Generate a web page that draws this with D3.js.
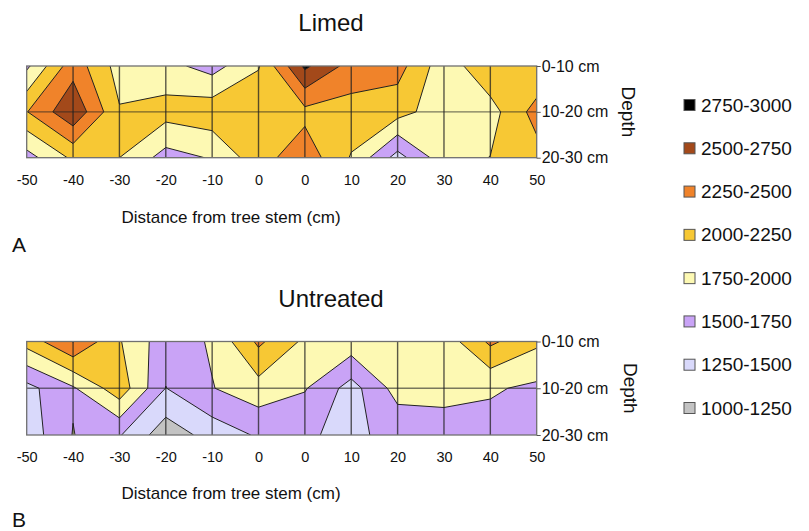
<!DOCTYPE html>
<html>
<head>
<meta charset="utf-8">
<script src="https://cdn.jsdelivr.net/npm/d3@7"></script>
<style>
  body { margin: 0; background: #fff; }
  svg { display: block; font-family: "Liberation Sans", Arial, Helvetica, sans-serif; }
</style>
</head>
<body>
<svg id="chart" width="809" height="531"></svg>
<script>
// column labels along the stem transect (two "0" columns, as in the figure)
const xLabels = ["-50","-40","-30","-20","-10","0","0","10","20","30","40","50"];
const depthLabels = ["0-10 cm","10-20 cm","20-30 cm"];

const thresholds = [1000, 1250, 1500, 1750, 2000, 2250, 2500, 2750];
const bandLabels = ["1000-1250","1250-1500","1500-1750","1750-2000","2000-2250","2250-2500","2500-2750","2750-3000"];
const bandColors = ["#c3c3c3","#d9d9fb","#c9a3f6","#fdf9b3","#f7c834","#f0832a","#a3491a","#000000"];

// Limed plot, one array per depth row
const limedTop    = [1700, 2400, 1900, 1830, 1650, 1980, 2800, 2400, 2350, 1850, 2200, 2020];
const limedMid    = [2240, 2700, 2020, 2100, 2160, 2200, 2180, 2150, 2100, 1850, 1900, 2350];
const limedBottom = [1650, 2050, 2000, 1650, 1770, 2150, 2400, 1980, 1400, 1900, 2005, 2150];

// Untreated plot
const untreatedTop    = [2100, 2510, 2020, 1600, 1780, 2300, 1950, 1900, 1800, 1850, 2300, 2050];
const untreatedMid    = [1420, 1720, 2150, 1495, 1740, 1900, 1770, 1400, 1850, 1820, 1780, 1700];
const untreatedBottom = [1350, 1760, 1520, 1100, 1350, 1530, 1520, 1460, 1560, 1650, 1650, 1680];

const svg = d3.select("#chart");
svg.append("rect").attr("width", 809).attr("height", 531).attr("fill", "#fff");

const left = 26.7, right = 536.7;

const panels = [
  {id: "a", title: "Limed", letter: "A", rows: [limedTop, limedMid, limedBottom],
   top: 66, bottom: 157.7, titleY: 31, axisTitleY: 223, letterY: 252, depthX: 628},
  {id: "b", title: "Untreated", letter: "B", rows: [untreatedTop, untreatedMid, untreatedBottom],
   top: 341.5, bottom: 435, titleY: 307, axisTitleY: 499, letterY: 527, depthX: 630}
];

function drawPanel(p) {
  const nx = xLabels.length, ny = p.rows.length;
  const values = p.rows.flat();

  // d3.contours puts value i at i + 0.5
  const x = d3.scaleLinear().domain([0.5, nx - 0.5]).range([left, right]);
  const y = d3.scaleLinear().domain([0.5, ny - 0.5]).range([p.top, p.bottom]);
  const path = d3.geoPath(d3.geoTransform({
    point(px, py) { this.stream.point(x(px), y(py)); }
  }));

  const contours = d3.contours().size([nx, ny]).thresholds(thresholds)(values);

  svg.append("clipPath").attr("id", "clip-" + p.id)
    .append("rect")
      .attr("x", left).attr("y", p.top)
      .attr("width", right - left).attr("height", p.bottom - p.top);

  const g = svg.append("g").attr("clip-path", `url(#clip-${p.id})`);

  g.selectAll("path")
    .data(contours)
    .join("path")
      .attr("d", path)
      .attr("fill", (d, i) => bandColors[i])
      .attr("stroke", "#222")
      .attr("stroke-width", 1)
      .attr("stroke-linejoin", "round");

  // grid
  g.selectAll("line.v")
    .data(d3.range(1, nx - 1))
    .join("line")
      .attr("class", "v")
      .attr("x1", i => x(i + 0.5)).attr("x2", i => x(i + 0.5))
      .attr("y1", p.top).attr("y2", p.bottom)
      .attr("stroke", "#222").attr("stroke-opacity", 0.75).attr("stroke-width", 1.4);

  g.append("line")
    .attr("x1", left).attr("x2", right)
    .attr("y1", y(1.5)).attr("y2", y(1.5))
    .attr("stroke", "#222").attr("stroke-opacity", 0.6).attr("stroke-width", 1.4);

  svg.append("rect")
    .attr("x", left).attr("y", p.top)
    .attr("width", right - left).attr("height", p.bottom - p.top)
    .attr("fill", "none").attr("stroke", "#707070").attr("stroke-width", 1.3);

  // x axis labels
  const xi = d3.scaleLinear().domain([0, nx - 1]).range([left, right]);
  const xAxis = svg.append("g")
      .attr("transform", `translate(0,${p.bottom})`)
      .call(d3.axisBottom(xi)
        .tickValues(d3.range(nx))
        .tickFormat(i => xLabels[i])
        .tickSize(0)
        .tickPadding(17));
  xAxis.select(".domain").remove();
  xAxis.selectAll("text")
      .attr("font-size", 14.5)
      .attr("font-family", "'Liberation Sans', Arial, sans-serif")
      .attr("fill", "#111");

  // depth labels
  const yi = d3.scaleLinear().domain([0, ny - 1]).range([p.top, p.bottom]);
  const yAxis = svg.append("g")
      .attr("transform", `translate(${right},0)`)
      .call(d3.axisRight(yi)
        .tickValues(d3.range(ny))
        .tickFormat(i => depthLabels[i])
        .tickSize(4)
        .tickPadding(1));
  yAxis.select(".domain").remove();
  yAxis.selectAll("line").attr("stroke", "#555");
  yAxis.selectAll("text")
      .attr("font-size", 16)
      .attr("font-family", "'Liberation Sans', Arial, sans-serif")
      .attr("fill", "#111");

  svg.append("text")
      .attr("x", 331).attr("y", p.titleY)
      .attr("text-anchor", "middle")
      .attr("font-size", 24)
      .attr("fill", "#111")
      .text(p.title);

  svg.append("text")
      .attr("x", 231).attr("y", p.axisTitleY)
      .attr("text-anchor", "middle")
      .attr("font-size", 17)
      .attr("fill", "#111")
      .text("Distance from tree stem (cm)");

  svg.append("text")
      .attr("x", 12).attr("y", p.letterY)
      .attr("font-size", 21)
      .attr("fill", "#111")
      .text(p.letter);

  svg.append("text")
      .attr("transform", `translate(${p.depthX},${(p.top + p.bottom) / 2}) rotate(90)`)
      .attr("text-anchor", "middle")
      .attr("dominant-baseline", "central")
      .attr("font-size", 19)
      .attr("fill", "#111")
      .text("Depth");
}

panels.forEach(drawPanel);

// legend, highest band first
const legendOrder = d3.range(bandLabels.length).reverse();
const ly = d3.scalePoint().domain(legendOrder).range([105, 408]);

const legend = svg.append("g")
  .selectAll("g")
  .data(legendOrder)
  .join("g")
    .attr("transform", i => `translate(684,${ly(i)})`);

legend.append("rect")
    .attr("x", 0).attr("y", -5.5)
    .attr("width", 11).attr("height", 11)
    .attr("fill", i => bandColors[i])
    .attr("stroke", "#555").attr("stroke-width", 1);

legend.append("text")
    .attr("x", 17).attr("y", 0)
    .attr("dominant-baseline", "central")
    .attr("font-size", 19)
    .attr("fill", "#111")
    .text(i => bandLabels[i]);
</script>
</body>
</html>
